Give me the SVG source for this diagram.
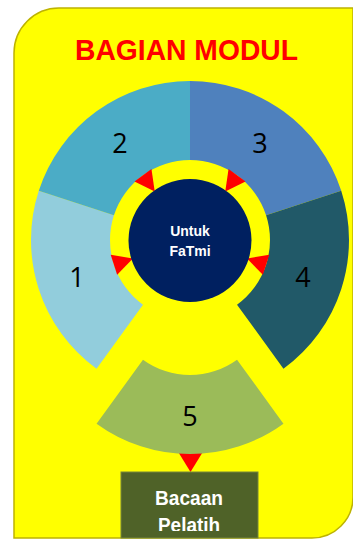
<svg xmlns="http://www.w3.org/2000/svg" width="353" height="541" viewBox="0 0 353 541">
  <style>
    .num { font-family: "Open Sans", "Noto Sans", sans-serif; font-size: 27px; fill: #000; text-anchor: middle; }
    .hub { font-family: "Liberation Sans", Arial, sans-serif; font-weight: bold; font-size: 14px; fill: #fff; text-anchor: middle; }
    .box { font-family: "Liberation Sans", Arial, sans-serif; font-weight: bold; font-size: 20px; fill: #fff; text-anchor: middle; }
    .arrow { fill: #ff0000; }
  </style>
  <defs>
    <clipPath id="boxClip">
      <rect x="121" y="472" width="137" height="59"/>
    </clipPath>
  </defs>

  <!-- panel background: rounded on the top-left and bottom-right corners -->
  <g id="panel">
    <path d="M14,53 A45,45 0 0 1 59,8 L353,8 L353,497 A41,41 0 0 1 312,538 L14,538 Z" fill="#ffff00" stroke="#bdb300" stroke-width="1.5"/>
  </g>

  <g id="title">
    <text x="75" y="59.5" font-family="'Liberation Sans', Arial, sans-serif" font-weight="bold" font-size="29.5" fill="#ff0000" textLength="223" lengthAdjust="spacingAndGlyphs">BAGIAN MODUL</text>
  </g>

  <!-- ring segments, centre (190,240), radii 80..159 -->
  <g id="seg1">
    <path d="M38.78,190.87 A159,159 0 0 0 96.54,368.63 L142.98,304.72 A80,80 0 0 1 113.92,215.28 Z" fill="#92cddc"/>
    <text class="num" x="77" y="287">1</text>
  </g>
  <g id="seg2">
    <path d="M190,81 A159,159 0 0 0 38.78,190.87 L113.92,215.28 A80,80 0 0 1 190,160 Z" fill="#4bacc6"/>
    <text class="num" x="120" y="153">2</text>
  </g>
  <g id="seg3">
    <path d="M341.22,190.87 A159,159 0 0 0 190,81 L190,160 A80,80 0 0 1 266.08,215.28 Z" fill="#4f81bd"/>
    <text class="num" x="260" y="153">3</text>
  </g>
  <g id="seg4">
    <path d="M283.46,368.63 A159,159 0 0 0 341.22,190.87 L266.08,215.28 A80,80 0 0 1 237.02,304.72 Z" fill="#215968"/>
    <text class="num" x="303" y="287">4</text>
  </g>

  <!-- connectors: arrowheads pointing at the hub and down to the box -->
  <g id="connectors">
    <polygon class="arrow" points="151.47,169.11 134.49,181.45 154.73,191.46"/>
    <polygon class="arrow" points="245.51,181.45 228.53,169.11 225.27,191.46"/>
    <polygon class="arrow" points="110.68,254.73 117.16,274.71 132.94,258.54"/>
    <polygon class="arrow" points="262.84,274.71 269.32,254.73 247.06,258.54"/>
    <polygon class="arrow" points="177,450 204,450 190.5,472"/>
  </g>

  <!-- segment 5 is pulled out of the ring, 55px downward -->
  <g id="seg5">
    <path transform="translate(0,55)" d="M96.54,368.63 A159,159 0 0 0 283.46,368.63 L237.02,304.72 A80,80 0 0 1 142.98,304.72 Z" fill="#9bbb59"/>
    <text class="num" x="190" y="426">5</text>
  </g>

  <g id="hub">
    <circle cx="190" cy="240.5" r="61.5" fill="#002060"/>
    <text class="hub" x="190" y="236">Untuk</text>
    <text class="hub" x="190" y="256">FaTmi</text>
  </g>

  <g id="reading">
    <rect x="121" y="472" width="137" height="66" fill="#4f6228" stroke="#76863a" stroke-width="1"/>
    <g clip-path="url(#boxClip)">
      <text class="box" x="189" y="504.5" textLength="68" lengthAdjust="spacingAndGlyphs">Bacaan</text>
      <text class="box" x="189" y="532" textLength="62" lengthAdjust="spacingAndGlyphs">Pelatih</text>
    </g>
  </g>
</svg>
